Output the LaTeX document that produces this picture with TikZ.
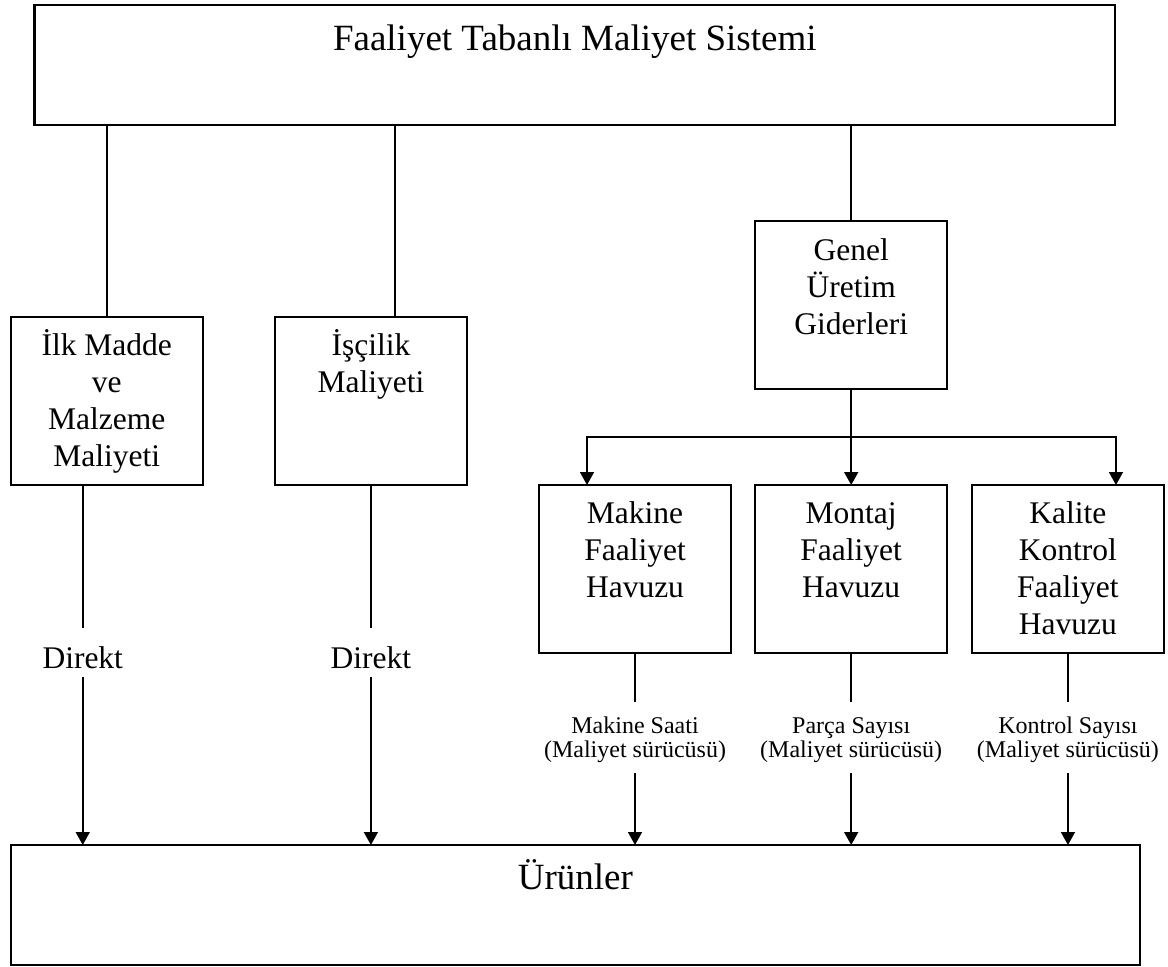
\documentclass[tikz,border=0pt]{standalone}
\usepackage{fontspec}
\setmainfont{Liberation Serif}
\usetikzlibrary{arrows.meta,calc}
% centred stack of lines whose baseline is the first line's baseline
\newcommand{\stk}[1]{\begin{tabular}[t]{@{}c@{}}#1\end{tabular}}

\begin{document}
\begin{tikzpicture}[x=1pt,y=-1pt,
  box/.style={draw, rectangle, line width=2pt, inner sep=0pt, outer sep=0pt,
              minimum width=192.5pt, minimum height=168pt},
  bigbox/.style={draw, rectangle, line width=2.4pt, inner sep=0pt, outer sep=0pt},
  boxtext/.style={inner sep=0pt, anchor=base, font=\fontsize{31.5}{37}\selectfont},
  bigtext/.style={inner sep=0pt, anchor=base, font=\fontsize{37}{44}\selectfont},
  drvtext/.style={inner sep=0pt, anchor=base, font=\fontsize{24}{24}\selectfont},
  link/.style={line width=1.6pt},
  arr/.style={link, -{Triangle[width=14pt,length=13pt]}},
]
\useasboundingbox (0,0) rectangle (1168,967);

% system box and products box
\node[bigbox, minimum width=1080.5pt, minimum height=120.3pt] (top) at (574.75,64.85) {};
\node[bigtext, yshift=-46pt] (toptxt) at (top.north) {Faaliyet Tabanlı Maliyet Sistemi};
\node[bigbox, line width=2pt, minimum width=1129.3pt, minimum height=120pt] (prod) at (575.35,905) {};
\node[bigtext, yshift=-44.3pt] (prodtxt) at (prod.north) {Ürünler};

% cost groups
\node[box] (mat) at (106.75,400.6) {};
\node[boxtext, yshift=-39.3pt] (mattxt) at (mat.north) {\stk{İlk Madde\\ve\\Malzeme\\Maliyeti}};
\node[box] (lab) at (370.9,400.6) {};
\node[boxtext, yshift=-39.3pt] (labtxt) at (lab.north) {\stk{İşçilik\\Maliyeti}};
\node[box] (gen) at (851.2,304.85) {};
\node[boxtext, yshift=-39.3pt] (gentxt) at (gen.north) {\stk{Genel\\Üretim\\Giderleri}};

% activity pools
\node[box] (mak) at (635,569) {};
\node[boxtext, yshift=-38pt] (maktxt) at (mak.north) {\stk{Makine\\Faaliyet\\Havuzu}};
\node[box] (mon) at (851.2,569) {};
\node[boxtext, yshift=-38pt] (montxt) at (mon.north) {\stk{Montaj\\Faaliyet\\Havuzu}};
\node[box] (kal) at (1067.95,569) {};
\node[boxtext, yshift=-38pt] (kaltxt) at (kal.north) {\stk{Kalite\\Kontrol\\Faaliyet\\Havuzu}};

% assignment labels
\coordinate (matout) at ($(mat.south)+(-24,0)$);
\coordinate (labin) at ($(lab.north)+(24,0)$);
\node[boxtext] (d1) at (matout |- 0,668) {Direkt};
\node[boxtext] (d2) at (lab.south |- 0,668) {Direkt};
\node[drvtext] (dm) at (mak.south |- 0,733.3) {\stk{Makine Saati\\(Maliyet sürücüsü)}};
\node[drvtext] (dn) at (mon.south |- 0,733.3) {\stk{Parça Sayısı\\(Maliyet sürücüsü)}};
\node[drvtext] (dk) at (kal.south |- 0,733.3) {\stk{Kontrol Sayısı\\(Maliyet sürücüsü)}};

% system box to the cost groups
\draw[link] (top.south -| mat.north) -- (mat.north);
\draw[link] (top.south -| labin) -- (labin);
\draw[link] (top.south -| gen.north) -- (gen.north);

% overhead split into the pools
\coordinate (split) at ($(gen.south)+(0,48)$);
\coordinate (makin) at ($(mak.north)+(-48,0)$);
\coordinate (kalin) at ($(kal.north)+(48,0)$);
\draw[link] (gen.south) -- (split);
\draw[arr] (split) -| (makin);
\draw[arr] (split) -- (mon.north);
\draw[arr] (split) -| (kalin);

% direct costs to products
\draw[link, shorten >=17.5pt] (matout) -- (d1.north);
\draw[arr, shorten <=8.7pt] (d1.south) -- (prod.north -| d1.south);
\draw[link, shorten >=17.5pt] (lab.south) -- (d2.north);
\draw[arr, shorten <=8.7pt] (d2.south) -- (prod.north -| d2.south);

% pools to products through their cost drivers
\draw[link, shorten >=14.8pt] (mak.south) -- (dm.north);
\draw[arr, shorten <=8.2pt] (dm.south) -- (prod.north -| dm.south);
\draw[link, shorten >=14.8pt] (mon.south) -- (dn.north);
\draw[arr, shorten <=8.2pt] (dn.south) -- (prod.north -| dn.south);
\draw[link, shorten >=14.8pt] (kal.south) -- (dk.north);
\draw[arr, shorten <=8.2pt] (dk.south) -- (prod.north -| dk.south);
\end{tikzpicture}
\end{document}
